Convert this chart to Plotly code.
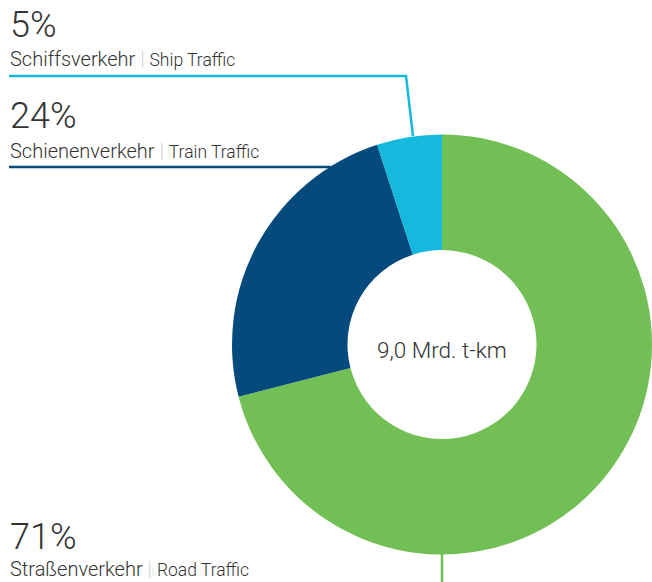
import plotly.graph_objects as go

# data
labels_de = ["Straßenverkehr", "Schienenverkehr", "Schiffsverkehr"]
labels_en = ["Road Traffic", "Train Traffic", "Ship Traffic"]
shares = [71, 24, 5]
colors = ["#72BF55", "#054A7C", "#14B9DD"]
total_label = "9,0 Mrd. t-km"

W, H = 652, 582
TEXT = "#333333"
FONT = "Roboto"


def px(x):
    return x / W


def py(y):
    return 1 - y / H


fig = go.Figure()
fig.add_trace(go.Pie(
    labels=labels_de,
    values=shares,
    marker=dict(colors=colors, line=dict(width=0)),
    hole=0.45,
    sort=False,
    direction="clockwise",
    rotation=0,
    textinfo="none",
    hoverinfo="label+percent",
    domain=dict(x=[px(232), px(652)], y=[py(555), py(134)]),
    showlegend=False,
))

# label blocks: (percent center y, subtitle center y)
label_pos = {2: (25, 59), 1: (116, 151), 0: (537, 569)}
annotations = []
for i, (y_pct, y_sub) in label_pos.items():
    annotations.append(dict(
        x=px(8), y=py(y_pct), xref="paper", yref="paper",
        xanchor="left", yanchor="middle", showarrow=False,
        text=f"{shares[i]}%",
        font=dict(family=FONT, size=36, color=TEXT, weight=300),
    ))
    annotations.append(dict(
        x=px(8), y=py(y_sub), xref="paper", yref="paper",
        xanchor="left", yanchor="middle", showarrow=False,
        text=(f"{labels_de[i]} <span style='color:#d0d0d0'>|</span> "
              f"<span style='font-size:17.5px'>{labels_en[i]}</span>"),
        font=dict(family=FONT, size=20, color=TEXT, weight=300),
    ))

annotations.append(dict(
    x=px(442), y=py(350), xref="paper", yref="paper",
    xanchor="center", yanchor="middle", showarrow=False,
    text=total_label,
    font=dict(family=FONT, size=22.5, color=TEXT, weight=300),
))

# leader lines
shapes = [
    dict(type="path", xref="paper", yref="paper",
         path=f"M {px(9)},{py(76)} L {px(406)},{py(76)} L {px(413)},{py(136)}",
         line=dict(color=colors[2], width=2.5)),
    dict(type="line", xref="paper", yref="paper",
         x0=px(9), y0=py(167), x1=px(345), y1=py(167),
         line=dict(color=colors[1], width=2.5), layer="below"),
    dict(type="line", xref="paper", yref="paper",
         x0=px(442), y0=py(554), x1=px(442), y1=py(582),
         line=dict(color=colors[0], width=2.5)),
]

fig.update_layout(
    width=W, height=H,
    margin=dict(l=0, r=0, t=0, b=0),
    paper_bgcolor="white",
    plot_bgcolor="white",
    annotations=annotations,
    shapes=shapes,
)

fig.write_html("out.html", config={"displayModeBar": False},
               post_script="document.body.style.margin='0';")
